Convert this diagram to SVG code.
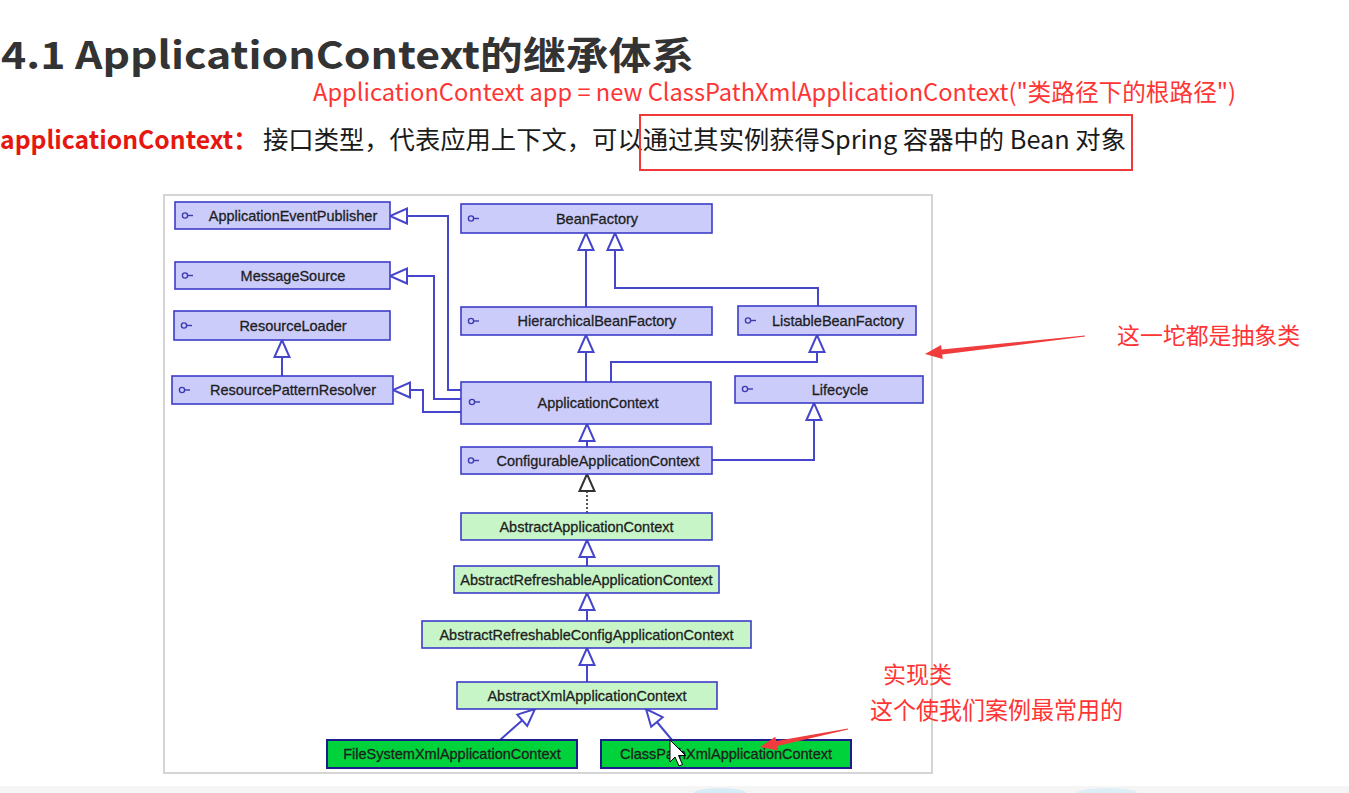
<svg xmlns="http://www.w3.org/2000/svg" width="1349" height="793" viewBox="0 0 1349 793">
<style>
.iface{fill:#ccccfb;stroke:#3c3cc8;stroke-width:1.6}
.abs{fill:#c8f5c8;stroke:#3c3cc8;stroke-width:1.6}
.impl{fill:#00d23c;stroke:#1c1c8c;stroke-width:2}
.lbl{font-family:"Liberation Sans",Arial,sans-serif;font-size:14.5px;fill:#1e1e1e;stroke:#1e1e1e;stroke-width:0.3;text-anchor:middle}
.ico{fill:none;stroke:#3c3cb0;stroke-width:1.4}
.conn{fill:none;stroke:#4646cc;stroke-width:2;marker-end:url(#tri)}
.red{font-family:"Noto Sans CJK SC","Noto Sans",sans-serif;fill:#ff3434}
</style>
<defs>
<marker id="tri" markerUnits="userSpaceOnUse" markerWidth="20" markerHeight="20" refX="17" refY="7.5" orient="auto" overflow="visible">
<path d="M0,0 L17,7.5 L0,15 Z" fill="#fff" stroke="#4646cc" stroke-width="2"/>
</marker>
<marker id="triDark" markerUnits="userSpaceOnUse" markerWidth="20" markerHeight="20" refX="17" refY="7.5" orient="auto" overflow="visible">
<path d="M0,0 L17,7.5 L0,15 Z" fill="#fff" stroke="#333" stroke-width="2"/>
</marker>
</defs>
<rect width="1349" height="793" fill="#fff"/>
<rect x="0" y="786" width="1349" height="7" fill="#f5f5f5"/>
<ellipse cx="720" cy="793" rx="26" ry="5" fill="#d6ecf6"/>
<ellipse cx="1107" cy="793" rx="30" ry="5" fill="#dceff7"/>

<!-- header texts -->
<text x="1" y="69" font-family="'Noto Sans CJK SC','Noto Sans',sans-serif" font-weight="bold" font-size="38" fill="#333" textLength="693" lengthAdjust="spacingAndGlyphs">4.1 ApplicationContext的继承体系</text>
<text class="red" x="313" y="101" font-size="24" textLength="923" lengthAdjust="spacingAndGlyphs">ApplicationContext app = new ClassPathXmlApplicationContext("类路径下的根路径")</text>
<text x="0" y="149" font-family="'Noto Sans CJK SC','Noto Sans',sans-serif" font-weight="bold" font-size="25" fill="#e5170f" textLength="258" lengthAdjust="spacingAndGlyphs">applicationContext：</text>
<text x="263" y="149" font-family="'Noto Sans CJK SC','Noto Sans',sans-serif" font-size="25" fill="#1a1a1a" textLength="863" lengthAdjust="spacingAndGlyphs">接口类型，代表应用上下文，可以通过其实例获得Spring 容器中的 Bean 对象</text>
<rect x="640" y="115" width="492" height="55" fill="none" stroke="#f03a3a" stroke-width="2"/>

<!-- diagram frame -->
<rect x="164" y="195" width="768" height="578" fill="#fff" stroke="#d4d4d4" stroke-width="2"/>

<g id="connectors">
<path class="conn" d="M461,390 H448 V216 H390"/>
<path class="conn" d="M461,399 H434 V276 H390"/>
<path class="conn" d="M461,412 H423 V390 H393"/>
<path class="conn" d="M282,376 V340"/>
<path class="conn" d="M586,307 V233"/>
<path class="conn" d="M818,306 V288 H615 V233"/>
<path class="conn" d="M586,382 V335"/>
<path class="conn" d="M611,382 V362 H817 V335"/>
<path class="conn" d="M587,447 V424"/>
<path class="conn" d="M712,460 H814 V403"/>
<path d="M587,513 V474" fill="none" stroke="#555" stroke-width="2" stroke-dasharray="2,2" marker-end="url(#triDark)"/>
<path class="conn" d="M587,566 V540"/>
<path class="conn" d="M587,621 V593"/>
<path class="conn" d="M587,682 V648"/>
<path class="conn" d="M500,740 L535,709"/>
<path class="conn" d="M672,740 L646,709"/>
</g>

<g id="ApplicationEventPublisher"><rect class="iface" x="175" y="202" width="215" height="27"/><circle class="ico" cx="185" cy="215.5" r="2.6"/><path class="ico" d="M187.6,215.5 H193"/><text class="lbl" x="293" y="220.5">ApplicationEventPublisher</text></g>
<g id="BeanFactory"><rect class="iface" x="461" y="204" width="251" height="29"/><circle class="ico" cx="471" cy="218.5" r="2.6"/><path class="ico" d="M473.6,218.5 H479"/><text class="lbl" x="597" y="223.5">BeanFactory</text></g>
<g id="MessageSource"><rect class="iface" x="175" y="262" width="215" height="27"/><circle class="ico" cx="185" cy="275.5" r="2.6"/><path class="ico" d="M187.6,275.5 H193"/><text class="lbl" x="293" y="280.5">MessageSource</text></g>
<g id="ResourceLoader"><rect class="iface" x="174" y="311" width="216" height="29"/><circle class="ico" cx="184" cy="325.5" r="2.6"/><path class="ico" d="M186.6,325.5 H192"/><text class="lbl" x="293" y="330.5">ResourceLoader</text></g>
<g id="HierarchicalBeanFactory"><rect class="iface" x="461" y="307" width="251" height="28"/><circle class="ico" cx="471" cy="321" r="2.6"/><path class="ico" d="M473.6,321 H479"/><text class="lbl" x="597" y="326">HierarchicalBeanFactory</text></g>
<g id="ListableBeanFactory"><rect class="iface" x="738" y="306" width="178" height="29"/><circle class="ico" cx="748" cy="320.5" r="2.6"/><path class="ico" d="M750.6,320.5 H756"/><text class="lbl" x="838" y="325.5">ListableBeanFactory</text></g>
<g id="ResourcePatternResolver"><rect class="iface" x="172" y="376" width="221" height="28"/><circle class="ico" cx="182" cy="390" r="2.6"/><path class="ico" d="M184.6,390 H190"/><text class="lbl" x="293" y="395">ResourcePatternResolver</text></g>
<g id="ApplicationContext"><rect class="iface" x="461" y="382" width="250" height="42" stroke-width="2.6"/><circle class="ico" cx="472" cy="402" r="2.6"/><path class="ico" d="M474.6,402 H480"/><text class="lbl" x="598" y="408">ApplicationContext</text></g>
<g id="Lifecycle"><rect class="iface" x="735" y="376" width="188" height="27"/><circle class="ico" cx="745" cy="389" r="2.6"/><path class="ico" d="M747.6,389 H753"/><text class="lbl" x="840" y="394.5">Lifecycle</text></g>
<g id="ConfigurableApplicationContext"><rect class="iface" x="461" y="447" width="251" height="27"/><circle class="ico" cx="471" cy="460.5" r="2.6"/><path class="ico" d="M473.6,460.5 H479"/><text class="lbl" x="598" y="465.5">ConfigurableApplicationContext</text></g>
<g id="AbstractApplicationContext"><rect class="abs" x="461" y="513" width="251" height="27"/><text class="lbl" x="586.5" y="531.5">AbstractApplicationContext</text></g>
<g id="AbstractRefreshableApplicationContext"><rect class="abs" x="454" y="566" width="265" height="27"/><text class="lbl" x="586.5" y="584.5">AbstractRefreshableApplicationContext</text></g>
<g id="AbstractRefreshableConfigApplicationContext"><rect class="abs" x="422" y="621" width="329" height="27"/><text class="lbl" x="586.5" y="639.5">AbstractRefreshableConfigApplicationContext</text></g>
<g id="AbstractXmlApplicationContext"><rect class="abs" x="457" y="682" width="260" height="27"/><text class="lbl" x="587" y="700.5">AbstractXmlApplicationContext</text></g>
<g id="FileSystemXmlApplicationContext"><rect class="impl" x="327" y="740" width="250" height="28"/><text class="lbl" x="452" y="759">FileSystemXmlApplicationContext</text></g>
<g id="ClassPathXmlApplicationContext"><rect class="impl" x="601" y="740" width="250" height="28"/><text class="lbl" x="726" y="759">ClassPathXmlApplicationContext</text></g>

<!-- annotations -->
<polygon points="925,354 942.7,359.1 942.2,354.6 1085.1,336.5 1084.9,335.5 941.6,349.6 941.1,345.1" fill="#f03c3c"/>
<text class="red" x="1117" y="344" font-size="23" textLength="183" lengthAdjust="spacingAndGlyphs">这一坨都是抽象类</text>
<text class="red" x="883" y="683" font-size="23" textLength="69" lengthAdjust="spacingAndGlyphs">实现类</text>
<text class="red" x="870" y="719" font-size="24" textLength="253" lengthAdjust="spacingAndGlyphs">这个使我们案例最常用的</text>
<polygon points="760,747 778.1,750.5 777.2,746.1 848.1,729.5 847.9,728.5 776.2,741.1 775.3,736.7" fill="#f03c3c"/>

<!-- mouse cursor -->
<polygon points="670,740 670,762 675,757 679,766 682.5,764.5 678.5,755.5 685.5,755.5" fill="#fff" stroke="#000" stroke-width="1"/>
</svg>
